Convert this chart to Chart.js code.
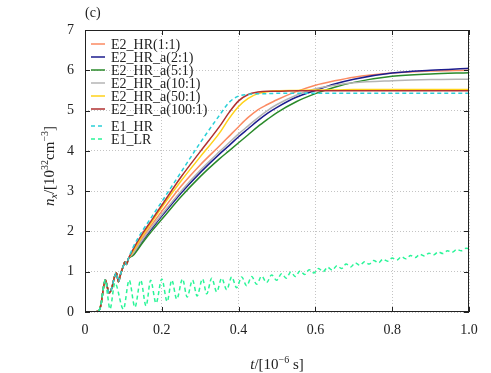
<!DOCTYPE html>
<html>
<head>
<meta charset="utf-8">
<script src="https://cdn.jsdelivr.net/npm/chart.js@4.4.0/dist/chart.umd.min.js"></script>
<style>
  html, body { margin: 0; padding: 0; background: #fff; }
</style>
</head>
<body>
<canvas id="chart" width="491" height="373"></canvas>
<script>
// shared start of all HR runs (before they split up)
const tEarly = [0, 0.02, 0.035, 0.042, 0.048, 0.053, 0.058, 0.063, 0.07, 0.077, 0.082, 0.087, 0.093, 0.1, 0.104, 0.108, 0.113];
const nEarly = [0, 0, 0.02, 0.2, 0.6, 0.8, 0.62, 0.47, 0.6, 0.88, 0.97, 0.75, 0.95, 1.15, 1.25, 1.18, 1.32];

// sample times after the split
const tMain = [0.125, 0.15, 0.175, 0.2, 0.25, 0.3, 0.35, 0.375, 0.4, 0.425, 0.45, 0.475, 0.5, 0.55, 0.6, 0.65, 0.7, 0.8, 0.9, 1.0];

const hr11   = [1.48, 1.85, 2.18, 2.5, 3.12, 3.65, 4.12, 4.36, 4.6, 4.83, 5.02, 5.15, 5.27, 5.47, 5.63, 5.74, 5.83, 5.93, 5.98, 6.0];
const hrA2   = [1.43, 1.77, 2.08, 2.38, 2.95, 3.46, 3.92, 4.13, 4.35, 4.55, 4.75, 4.93, 5.08, 5.33, 5.5, 5.66, 5.78, 5.93, 6.0, 6.05];
const hrA5   = [1.4, 1.72, 2.02, 2.3, 2.86, 3.36, 3.8, 4.0, 4.2, 4.4, 4.6, 4.78, 4.95, 5.22, 5.42, 5.58, 5.7, 5.85, 5.91, 5.94];
const hrA10  = [1.45, 1.8, 2.12, 2.42, 3.0, 3.52, 3.98, 4.2, 4.42, 4.62, 4.82, 5.0, 5.15, 5.38, 5.54, 5.63, 5.69, 5.74, 5.77, 5.78];
const hrA50  = [1.5, 1.9, 2.25, 2.6, 3.25, 3.85, 4.44, 4.8, 5.1, 5.3, 5.42, 5.47, 5.49, 5.5, 5.51, 5.51, 5.52, 5.52, 5.52, 5.52];
const hrA100 = [1.55, 1.95, 2.3, 2.65, 3.35, 3.98, 4.6, 4.95, 5.24, 5.4, 5.46, 5.48, 5.48, 5.49, 5.49, 5.49, 5.49, 5.49, 5.49, 5.49];
const e1HR   = [1.6, 2.02, 2.38, 2.74, 3.47, 4.2, 4.88, 5.2, 5.36, 5.4, 5.42, 5.42, 5.43, 5.43, 5.43, 5.43, 5.43, 5.43, 5.43, 5.43];

// low-res run, oscillating
const tLR = [0, 0.02, 0.035, 0.042, 0.048, 0.053, 0.059, 0.065, 0.078, 0.1, 0.115, 0.13, 0.145, 0.159, 0.171, 0.185,
  0.2, 0.214, 0.226, 0.239, 0.254, 0.266, 0.28, 0.292, 0.306, 0.317, 0.33, 0.343, 0.356, 0.369, 0.382, 0.395,
  0.408, 0.421, 0.434, 0.447, 0.46, 0.473, 0.486, 0.499, 0.512, 0.524, 0.536, 0.548, 0.56, 0.572, 0.584, 0.596,
  0.608, 0.62, 0.632, 0.644, 0.656, 0.668, 0.68, 0.692, 0.704, 0.716, 0.728, 0.74, 0.752, 0.764, 0.776, 0.788,
  0.8, 0.812, 0.824, 0.836, 0.848, 0.86, 0.872, 0.884, 0.896, 0.908, 0.92, 0.932, 0.944, 0.956, 0.968, 0.98, 0.992, 1.0];
const nLR = [0, 0, 0.02, 0.2, 0.6, 0.8, 0.4, 0.07, 0.72, 0.07, 0.79, 0.12, 0.79, 0.15, 0.79, 0.22,
  0.82, 0.26, 0.79, 0.32, 0.82, 0.37, 0.79, 0.4, 0.82, 0.45, 0.84, 0.5, 0.84, 0.55, 0.87, 0.6,
  0.87, 0.65, 0.88, 0.69, 0.89, 0.73, 0.92, 0.79, 0.95, 0.84, 0.99, 0.88, 1.02, 0.93, 1.05, 0.97,
  1.08, 1.0, 1.11, 1.04, 1.15, 1.08, 1.19, 1.12, 1.22, 1.16, 1.25, 1.19, 1.28, 1.22, 1.31, 1.26,
  1.34, 1.29, 1.37, 1.32, 1.4, 1.35, 1.43, 1.39, 1.46, 1.42, 1.49, 1.45, 1.52, 1.48, 1.55, 1.52, 1.58, 1.57];

const labels = ['E2_HR(1:1)', 'E2_HR_a(2:1)', 'E2_HR_a(5:1)', 'E2_HR_a(10:1)', 'E2_HR_a(50:1)', 'E2_HR_a(100:1)', 'E1_HR', 'E1_LR'];
const colors = ['#fb8a62', '#1c1c8e', '#2a8a2a', '#b4b4b4', '#ffd21a', '#b03030', '#2ad0d8', '#2af598'];

const xTicks = [0, 0.2, 0.4, 0.6, 0.8, 1];
const yTicks = [0, 1, 2, 3, 4, 5, 6, 7];

const serif = '"Liberation Serif", "DejaVu Serif", serif';

function pts(ts, ns) { return ts.map((t, i) => ({ x: t, y: ns[i] })); }
function hrSeries(vals) { return pts(tEarly, nEarly).concat(pts(tMain, vals)); }

const seriesData = [hr11, hrA2, hrA5, hrA10, hrA50, hrA100, e1HR].map(hrSeries);
seriesData.push(pts(tLR, nLR));

const datasets = seriesData.map((d, i) => ({
    label: labels[i],
    data: d,
    borderColor: colors[i],
    borderWidth: 1.5,
    borderDash: i >= 6 ? [4, 3] : [],
    pointRadius: 0,
    cubicInterpolationMode: 'monotone',
    fill: false,
    order: 8 - i   // later entries on top, like gnuplot
}));

// draw text made of pieces (italic, super/subscript)
function richWidth(ctx, parts) {
    let w = 0;
    parts.forEach(p => { ctx.font = (p.it ? 'italic ' : '') + p.size + 'px ' + serif; w += ctx.measureText(p.t).width; });
    return w;
}
function drawRich(ctx, parts, x, y) {
    let cx = x;
    parts.forEach(p => {
        ctx.font = (p.it ? 'italic ' : '') + p.size + 'px ' + serif;
        ctx.fillText(p.t, cx, y + (p.dy || 0));
        cx += ctx.measureText(p.t).width;
    });
}

const decor = {
    id: 'decor',
    afterDraw(chart) {
        const ctx = chart.ctx, a = chart.chartArea;
        const xs = chart.scales.x, ys = chart.scales.y;
        ctx.save();
        // frame
        ctx.strokeStyle = '#222';
        ctx.lineWidth = 1;
        ctx.strokeRect(a.left + 0.5, a.top + 0.5, a.right - a.left - 1, a.bottom - a.top - 1);
        // inward ticks on all sides
        ctx.beginPath();
        yTicks.forEach(v => {
            const y = Math.round(ys.getPixelForValue(v)) + 0.5;
            ctx.moveTo(a.left, y); ctx.lineTo(a.left + 5, y);
            ctx.moveTo(a.right, y); ctx.lineTo(a.right - 5, y);
        });
        xTicks.forEach(v => {
            const x = Math.round(xs.getPixelForValue(v)) + 0.5;
            ctx.moveTo(x, a.bottom); ctx.lineTo(x, a.bottom - 5);
            ctx.moveTo(x, a.top); ctx.lineTo(x, a.top + 5);
        });
        ctx.stroke();

        ctx.fillStyle = '#222';
        ctx.textBaseline = 'alphabetic';
        // panel tag
        ctx.font = '14px ' + serif;
        ctx.fillText('(c)', 85, 17);

        // x title
        const xt = [
            { t: 't', it: true, size: 15 },
            { t: '/[10', size: 15 },
            { t: '\u22126', size: 10, dy: -6 },
            { t: ' s]', size: 15 }
        ];
        drawRich(ctx, xt, (a.left + a.right) / 2 - richWidth(ctx, xt) / 2, 369);

        // y title, rotated
        const yt = [
            { t: 'n', it: true, size: 15 },
            { t: 'x', it: true, size: 10, dy: 3 },
            { t: '/[10', size: 15 },
            { t: '32', size: 10, dy: -6 },
            { t: 'cm', size: 15 },
            { t: '\u22123', size: 10, dy: -6 },
            { t: ']', size: 15 }
        ];
        ctx.translate(54, 166);
        ctx.rotate(-Math.PI / 2);
        drawRich(ctx, yt, -richWidth(ctx, yt) / 2, 0);
        ctx.setTransform(1, 0, 0, 1, 0, 0);

        // key
        const rowY = [44, 57, 70, 83, 96, 109, 126, 139];
        chart.data.datasets.forEach((ds, i) => {
            const y = rowY[i];
            ctx.strokeStyle = ds.borderColor;
            ctx.lineWidth = 1.5;
            ctx.setLineDash(ds.borderDash);
            ctx.beginPath();
            ctx.moveTo(91, y); ctx.lineTo(105, y);
            ctx.stroke();
            ctx.setLineDash([]);
            ctx.fillStyle = '#222';
            ctx.font = '14px ' + serif;
            ctx.textBaseline = 'middle';
            ctx.fillText(ds.label, 111, y + 1);
        });
        ctx.restore();
    }
};

new Chart(document.getElementById('chart'), {
    type: 'line',
    data: { datasets: datasets },
    options: {
        responsive: false,
        animation: false,
        layout: { padding: { left: 0, right: 22, top: 30, bottom: 0 } },
        plugins: { legend: { display: false }, tooltip: { enabled: false } },
        scales: {
            x: {
                type: 'linear', min: 0, max: 1,
                afterFit: s => { s.height = 61; },
                afterBuildTicks: s => { s.ticks = xTicks.map(v => ({ value: v })); },
                grid: { color: '#c4c4c4', drawTicks: false },
                border: { display: false, dash: [1, 2] },
                ticks: { padding: 10, color: '#222', font: { family: serif, size: 14 }, maxRotation: 0 }
            },
            y: {
                min: 0, max: 7,
                afterFit: s => { s.width = 85; },
                afterBuildTicks: s => { s.ticks = yTicks.map(v => ({ value: v })); },
                grid: { color: '#c4c4c4', drawTicks: false },
                border: { display: false, dash: [1, 2] },
                ticks: { padding: 11, color: '#222', font: { family: serif, size: 14 } }
            }
        }
    },
    plugins: [decor]
});
</script>
</body>
</html>
